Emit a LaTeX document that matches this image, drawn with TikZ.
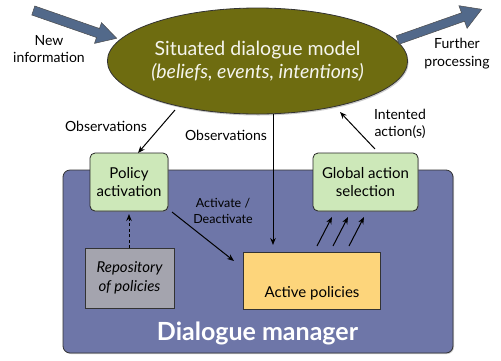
\documentclass[tikz,border=0pt]{standalone}
\usepackage{fontspec}
\setmainfont{Lato}
\usetikzlibrary{arrows.meta,shadows,shapes.geometric}
\definecolor{sdmolive}{HTML}{6E6C10}
\definecolor{steel}{HTML}{52698A}
\definecolor{dmblue}{HTML}{6E76A8}
\definecolor{greenbox}{HTML}{CDE8B9}
\definecolor{graybox}{HTML}{A4A4AE}
\definecolor{yellowbox}{HTML}{FDD57B}
\tikzset{
  lbl/.style={font=\fontsize{14}{17.5}\selectfont, align=center, inner sep=0pt},
  boxtext/.style={font=\fontsize{15}{17.5}\selectfont, align=center},
  greenstep/.style={draw=black!85, line width=0.8pt, fill=greenbox, rounded corners=5pt,
     drop shadow={shadow xshift=1pt, shadow yshift=-1pt, opacity=0.4}},
  flatbox/.style={draw=black!80, line width=0.8pt,
     drop shadow={shadow xshift=1pt, shadow yshift=-1pt, opacity=0.4}},
  conn/.style={-{Stealth[length=7pt,width=5.5pt]}, line width=1pt},
  bigarrow/.style={fill=steel, draw=black!70, line width=0.5pt},
}
\begin{document}
\begin{tikzpicture}[x=1pt,y=-1pt]
\useasboundingbox (0,0) rectangle (501,360);

% dialogue manager frame
\node[flatbox, fill=dmblue, rounded corners=7pt, minimum width=390pt, minimum height=183pt,
      inner sep=0pt] (dm) at (258,261.5) {};
\node[font=\fontsize{25}{28}\selectfont\bfseries, text=white, anchor=base, inner sep=0pt]
      (dmlabel) at (257.5,340) {Dialogue manager};

% situated dialogue model
\node[ellipse, draw=black!80, line width=0.8pt, fill=sdmolive, minimum width=280pt, minimum height=106pt,
      inner sep=0pt, drop shadow={shadow xshift=1pt, shadow yshift=-1.5pt, opacity=0.4},
      text=white!93!sdmolive, align=center, font=\fontsize{19.5}{23}\selectfont] (sdm) at (257.5,61)
      {Situated dialogue model\\\textit{(beliefs, events, intentions)}};

% boxes
\node[greenstep, boxtext, minimum width=78pt, minimum height=58pt, inner sep=0pt] (pa) at (129,182)
      {Policy\\activation};
\node[greenstep, boxtext, minimum width=105pt, minimum height=58pt, inner sep=0pt] (gas) at (365.5,182)
      {Global action\\selection};
\node[flatbox, fill=graybox, minimum width=89pt, minimum height=60pt, inner sep=0pt,
      boxtext, font=\fontsize{15}{19}\selectfont\itshape] (rep) at (129.5,278)
      {Repository\\of policies};
\node[flatbox, fill=yellowbox, minimum width=137pt, minimum height=57pt, inner sep=0pt] (ap) at (311.5,280.5) {};
\node[boxtext, anchor=base, inner sep=0pt] (aptext) at (312,297) {Active policies};

% big block arrows
\fill[bigarrow] (34.8,6.0) -- (99.5,28.5) -- (101.5,22.6) -- (116.7,38.3) -- (94.5,43.4)
   -- (96.5,37.5) -- (31.8,15.0) -- cycle;
\fill[bigarrow] (396.2,35.8) -- (461.5,12.8) -- (458.9,5.7) -- (481.7,9.3) -- (467.1,28.3)
   -- (464.5,21.2) -- (399.2,44.2) -- cycle;
\node[lbl] (newinfo) at (49,49) {New\\information};
\node[lbl] (further) at (457,53.5) {Further\\processing};

% connectors
\coordinate (o1s) at (175,110);
\coordinate (o1e) at (138,153);
\draw[conn] (o1s) -- (o1e);
\node[lbl] (obs1) at (106,126) {Observations};
\coordinate (o2s) at (273,114);
\coordinate (o2e) at (273,245);
\draw[conn] (o2s) -- (o2e);
\node[lbl] (obs2) at (226,135) {Observations};
\coordinate (ias) at (375,149);
\coordinate (iae) at (340,112);
\draw[conn] (ias) -- (iae);
\node[lbl] (ia) at (400,124) {Intented\\action(s)};
\coordinate (ads) at (172,212);
\coordinate (ade) at (234,261);
\draw[conn] (ads) -- (ade);
\node[lbl, font=\fontsize{12.5}{15.5}\selectfont] (ad) at (223,211) {Activate /\\Deactivate};
\coordinate (rs) at (129,248);
\coordinate (re) at (129,214);
\draw[conn, dash pattern=on 3pt off 2.5pt] (rs) -- (re);
\foreach \i in {0,1,2} {
  \coordinate (m\i s) at ({317+16*\i},246);
  \coordinate (m\i e) at ({332+16*\i},217);
  \draw[conn] (m\i s) -- (m\i e);
}
\end{tikzpicture}
\end{document}
